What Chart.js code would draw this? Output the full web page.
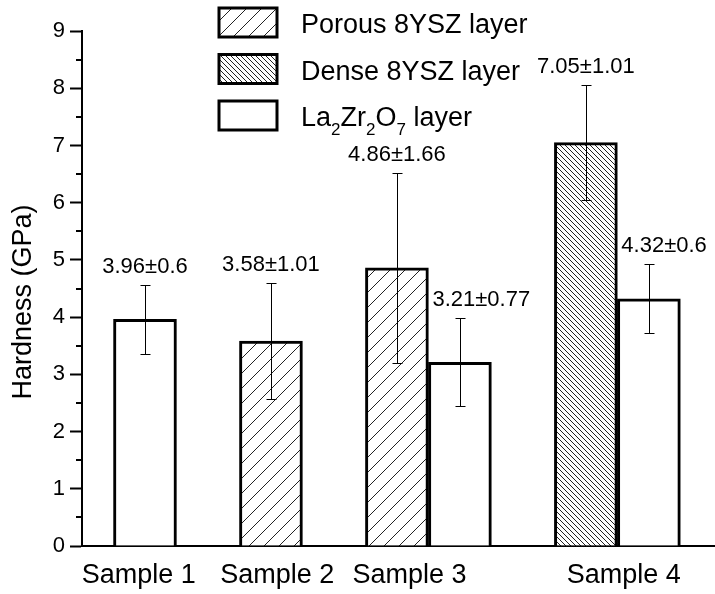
<!DOCTYPE html>
<html>
<head>
<meta charset="utf-8">
<script src="https://cdn.jsdelivr.net/npm/chart.js@4.4.0/dist/chart.umd.min.js"></script>
<style>
  body { margin: 0; background: #fff; }
  #wrap { width: 715px; height: 594px; }
</style>
</head>
<body>
<div id="wrap"><canvas id="hardness" width="715" height="594"></canvas></div>
<script>
// hardness of the coating layers
const sampleNames = ["Sample 1", "Sample 2", "Sample 3", "Sample 4"];
const sampleLabelPos = [0.9, 3.1, 5.2, 8.6];

const porousPos = [3, 5];
const porousVal = [3.58, 4.86];
const porousErr = [1.01, 1.66];

const densePos = [8];
const denseVal = [7.05];
const denseErr = [1.01];

const lzoPos = [1, 6, 9];
const lzoVal = [3.96, 3.21, 4.32];
const lzoErr = [0.6, 0.77, 0.6];

const yMin = 0, yMax = 9, yStep = 1, yMinorStep = 0.5;
const xMin = 0, xMax = 10.05;
const yTitle = "Hardness (GPa)";

const FONT = "'Liberation Sans', Arial, sans-serif";

function points(pos, val) {
  return pos.map((x, i) => ({ x: x, y: val[i] }));
}

// diagonal hatch, dir "/" or "\"
function hatch(step, dir) {
  const c = document.createElement("canvas");
  c.width = step; c.height = step;
  const g = c.getContext("2d");
  g.fillStyle = "#fff";
  g.fillRect(0, 0, step, step);
  g.strokeStyle = "#222";
  g.lineWidth = 1;
  g.beginPath();
  if (dir === "/") {
    g.moveTo(0, step); g.lineTo(step, 0);
    g.moveTo(-1, 1); g.lineTo(1, -1);
    g.moveTo(step - 1, step + 1); g.lineTo(step + 1, step - 1);
  } else {
    g.moveTo(0, 0); g.lineTo(step, step);
    g.moveTo(-1, step - 1); g.lineTo(1, step + 1);
    g.moveTo(step - 1, -1); g.lineTo(step + 1, 1);
  }
  g.stroke();
  return g.createPattern(c, "repeat");
}

const errorBars = {
  id: "errorBars",
  afterDatasetsDraw(chart) {
    const ctx = chart.ctx, y = chart.scales.y;
    const allBars = [];
    chart.data.datasets.forEach((ds, di) => {
      chart.getDatasetMeta(di).data.forEach(b => allBars.push(b));
    });
    chart.data.datasets.forEach((ds, di) => {
      chart.getDatasetMeta(di).data.forEach((bar, i) => {
        const v = ds.data[i].y, e = ds.err[i];
        const x = Math.round(bar.x) + 0.5;
        const yt = Math.round(y.getPixelForValue(v + e)) + 0.5;
        const yb = Math.round(y.getPixelForValue(v - e)) + 0.5;
        ctx.save();
        ctx.strokeStyle = "#000";
        ctx.lineWidth = 1;
        ctx.beginPath();
        ctx.moveTo(x, yt); ctx.lineTo(x, yb);
        ctx.moveTo(x - 5, yt); ctx.lineTo(x + 5, yt);
        ctx.moveTo(x - 5, yb); ctx.lineTo(x + 5, yb);
        ctx.stroke();

        // value label, pushed right if it would sit on a neighbouring bar
        ctx.fillStyle = "#000";
        ctx.font = "22px " + FONT;
        ctx.textAlign = "left";
        ctx.textBaseline = "alphabetic";
        const txt = v + "±" + e;
        const w = ctx.measureText(txt).width;
        const base = yt - 13;
        let lx = bar.x - w / 2;
        allBars.forEach(o => {
          if (o === bar) return;
          const r = o.x + o.width / 2, l = o.x - o.width / 2;
          if (o.y < base + 4 && lx < r && lx + w > l && o.x < bar.x) lx = r + 4;
        });
        ctx.fillText(txt, lx, base);
        ctx.restore();
      });
    });
  }
};

const minorTicks = {
  id: "minorTicks",
  afterDraw(chart) {
    const ctx = chart.ctx, y = chart.scales.y, left = chart.chartArea.left;
    ctx.save();
    ctx.strokeStyle = "#000";
    ctx.lineWidth = 2;
    ctx.beginPath();
    for (let v = yMin + yMinorStep; v < yMax; v += yStep) {
      const py = Math.round(y.getPixelForValue(v));
      ctx.moveTo(left - 6, py); ctx.lineTo(left, py);
    }
    ctx.stroke();
    ctx.restore();
  }
};

// text with chemical subscripts: a digit right after a letter goes down
function drawFormula(ctx, text, x, y, size) {
  let cx = x;
  for (let i = 0; i < text.length; i++) {
    const ch = text[i];
    const sub = /[0-9]/.test(ch) && i > 0 && /[A-Za-z]/.test(text[i - 1]);
    ctx.font = (sub ? Math.round(size * 0.62) : size) + "px " + FONT;
    ctx.fillText(ch, cx, sub ? y + 9 : y);
    cx += ctx.measureText(ch).width;
  }
}

const boxLegend = {
  id: "boxLegend",
  afterDraw(chart) {
    const ctx = chart.ctx;
    ctx.save();
    chart.data.datasets.forEach((ds, i) => {
      const top = 8 + i * 46.5;
      ctx.fillStyle = ds.backgroundColor;
      ctx.fillRect(219, top, 58, 29);
      ctx.strokeStyle = "#000";
      ctx.lineWidth = 3;
      ctx.strokeRect(219, top, 58, 29);
      ctx.fillStyle = "#000";
      ctx.textAlign = "left";
      ctx.textBaseline = "alphabetic";
      drawFormula(ctx, ds.label, 301, top + 25, 27);
    });
    ctx.restore();
  }
};

const axisTitle = {
  id: "axisTitle",
  afterDraw(chart) {
    const ctx = chart.ctx;
    ctx.save();
    ctx.translate(24, 302);
    ctx.rotate(-Math.PI / 2);
    ctx.fillStyle = "#000";
    ctx.font = "27px " + FONT;
    ctx.textAlign = "center";
    ctx.textBaseline = "middle";
    ctx.fillText(yTitle, 0, 0);
    ctx.restore();
  }
};

const barStyle = {
  borderColor: "#000",
  borderWidth: 3,
  grouped: false,
  barPercentage: 1,
  categoryPercentage: 1
};

new Chart(document.getElementById("hardness"), {
  type: "bar",
  data: {
    datasets: [
      Object.assign({ label: "Porous 8YSZ layer", data: points(porousPos, porousVal), err: porousErr, backgroundColor: hatch(15, "/") }, barStyle),
      Object.assign({ label: "Dense 8YSZ layer", data: points(densePos, denseVal), err: denseErr, backgroundColor: hatch(5, "\\") }, barStyle),
      Object.assign({ label: "La2Zr2O7 layer", data: points(lzoPos, lzoVal), err: lzoErr, backgroundColor: "#fff" }, barStyle)
    ]
  },
  options: {
    responsive: false,
    animation: false,
    layout: { padding: { top: 31, right: 0, left: 0, bottom: 0 } },
    plugins: { legend: { display: false }, tooltip: { enabled: false } },
    scales: {
      x: {
        type: "linear",
        min: xMin,
        max: xMax,
        offset: false,
        grid: { display: false, drawTicks: false, offset: false },
        border: { color: "#000", width: 2 },
        afterBuildTicks: s => { s.ticks = sampleLabelPos.map(v => ({ value: v })); },
        afterFit: s => { s.height = 48; },
        ticks: {
          callback: (v, i) => sampleNames[i],
          autoSkip: false,
          maxRotation: 0,
          color: "#000",
          padding: 13,
          font: { family: FONT, size: 27 }
        }
      },
      y: {
        min: yMin,
        max: yMax,
        afterFit: s => { s.width = 82; },
        grid: { drawOnChartArea: false, tickLength: 12, tickWidth: 2, tickColor: "#000" },
        border: { color: "#000", width: 2 },
        ticks: {
          stepSize: yStep,
          color: "#000",
          padding: 5,
          font: { family: FONT, size: 22 }
        }
      }
    }
  },
  plugins: [errorBars, minorTicks, boxLegend, axisTitle]
});
</script>
</body>
</html>
